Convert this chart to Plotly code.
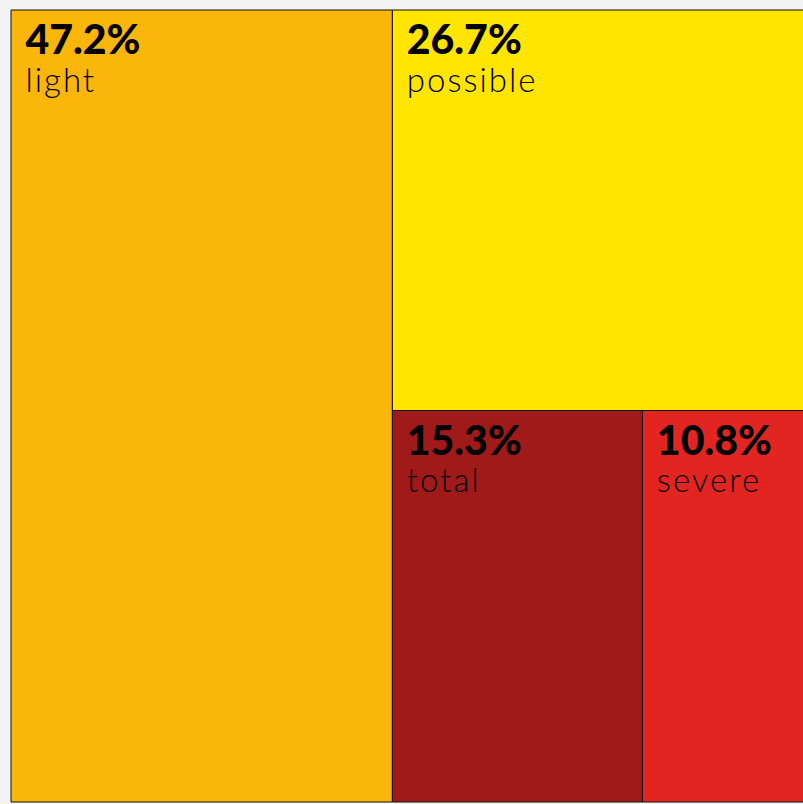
import plotly.graph_objects as go

labels = ["light", "possible", "total", "severe"]
shares = [47.2, 26.7, 15.3, 10.8]
colors = ["#FAB60A", "#FFE500", "#A01A19", "#E22521"]

indent = "<span style='font-size:42px'>&nbsp;</span>"
texts = [
    f"{indent}<span style='font-size:41px;font-weight:900'>{v:.1f}%</span>"
    f"<br>{indent}<span style='font-size:33px;letter-spacing:2px'>{l}</span>"
    for l, v in zip(labels, shares)
]

fig = go.Figure(go.Treemap(
    labels=labels,
    parents=[""] * len(labels),
    values=shares,
    text=texts,
    texttemplate="%{text}",
    textposition="top left",
    marker=dict(colors=colors, line=dict(color="#111111", width=1),
                pad=dict(t=0, l=0, r=0, b=0)),
    tiling=dict(packing="squarify", pad=0),
    pathbar=dict(visible=False),
    textfont=dict(family="Lato", size=29, color="#000000", weight=300),
    hoverinfo="label+value",
    sort=True,
))

# the treemap runs past the right and bottom edges of the window, as in the original crop
fig.update_layout(
    width=819,
    height=804,
    margin=dict(l=11, t=10, r=0, b=2),
    paper_bgcolor="#F3F3F3",
)

fig.write_html(
    "out.html",
    config={"displayModeBar": False},
    post_script="document.body.style.margin='0';document.body.style.overflow='hidden';",
)
